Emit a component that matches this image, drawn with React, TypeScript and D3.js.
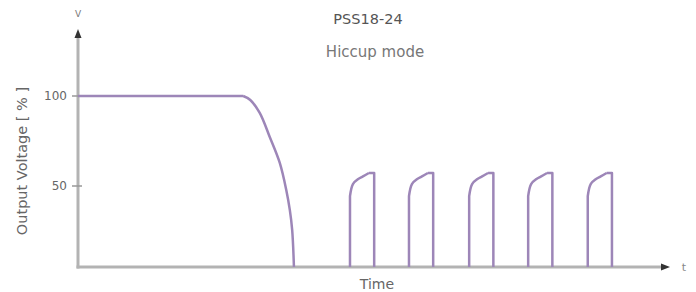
import React from "react";
import * as d3 from "d3";

// schematic waveform, time in arbitrary units (0..100), output in %
const mainTime = [0, 28.0, 29.2, 30.8, 32.5, 34.2, 35.3, 35.9, 36.3, 36.6];
const mainValue = [100, 100, 97.8, 90.6, 77.2, 62.8, 47.8, 36.7, 25.6, 5];

const pulseStarts = [46.1, 56.1, 66.3, 76.3, 86.4];
const pulseOffsets = [0, 0, 0.5, 1.4, 2.2, 3.2, 4.1, 4.1];
const pulseValues = [5, 44.4, 51.1, 53.9, 55.3, 57.2, 57.2, 5];

const yTicks = [50, 100];
const title = "PSS18-24";
const subtitle = "Hiccup mode";

type Pt = { t: number; v: number };

const App: React.FC = () => {
  const width = 696;
  const height = 292;
  const x = d3.scaleLinear().domain([0, 100]).range([78, 668]);
  const y = d3.scaleLinear().domain([5, 100]).range([267, 96]);

  const straight = d3
    .line<Pt>()
    .x((d) => x(d.t))
    .y((d) => y(d.v));
  const curved = d3
    .line<Pt>()
    .x((d) => x(d.t))
    .y((d) => y(d.v))
    .curve(d3.curveCatmullRom.alpha(0.5));

  const main: Pt[] = mainTime.map((t, i) => ({ t, v: mainValue[i] }));
  const pulses: Pt[][] = pulseStarts.map((s) =>
    pulseOffsets.map((o, i) => ({ t: s + o, v: pulseValues[i] }))
  );

  // flat / vertical parts straight, bends smooth
  const mainPath = (straight(main.slice(0, 2)) || "") + (curved(main.slice(1)) || "");
  const pulsePath = (p: Pt[]) =>
    (straight(p.slice(0, 2)) || "") + (curved(p.slice(1, 6)) || "") + (straight(p.slice(5)) || "");

  const x0 = x(0);
  const yBase = y(5);
  const font = "'DejaVu Sans', sans-serif";
  const stroke = "#9d86b8";

  return (
    <svg
      width={width}
      height={height}
      style={{ position: "absolute", left: 0, top: 0, background: "#fff" }}
      fontFamily={font}
    >
      {/* axes */}
      <line x1={x0} y1={36} x2={x0} y2={yBase + 1.5} stroke="#b3b3b3" strokeWidth={3} />
      <line x1={x0 - 1.5} y1={yBase} x2={662} y2={yBase} stroke="#b3b3b3" strokeWidth={3} />
      <path d={`M${x0},29 L${x0 - 3.5},38 L${x0 + 3.5},38 Z`} fill="#333" />
      <path d={`M670,${yBase} L661,${yBase - 3.5} L661,${yBase + 3.5} Z`} fill="#333" />
      <text x={x0} y={17} textAnchor="middle" fontSize={9} fill="#777">V</text>
      <text x={684} y={yBase + 4} textAnchor="middle" fontSize={11} fill="#888">t</text>

      {yTicks.map((t) => (
        <g key={t}>
          <line x1={x0 - 6} x2={x0 + 4} y1={y(t)} y2={y(t)} stroke="#999" strokeWidth={1.5} />
          <text x={x0 - 11} y={y(t)} dy="0.35em" textAnchor="end" fontSize={12} fill="#666">
            {t}
          </text>
        </g>
      ))}

      <text
        transform={`translate(22,${161}) rotate(-90)`}
        textAnchor="middle"
        dy="0.35em"
        fontSize={14.5}
        fill="#666"
      >
        Output Voltage  [ % ]
      </text>
      <text x={377} y={289} textAnchor="middle" fontSize={14} fill="#666">Time</text>

      <text x={368} y={24} textAnchor="middle" fontSize={14.5} fill="#555">{title}</text>
      <text x={375} y={57} textAnchor="middle" fontSize={15} fill="#777">{subtitle}</text>

      {/* waveform */}
      <path d={mainPath} fill="none" stroke={stroke} strokeWidth={2.5} strokeLinejoin="round" />
      {pulses.map((p, i) => (
        <path key={i} d={pulsePath(p)} fill="none" stroke={stroke} strokeWidth={2.5} strokeLinejoin="round" />
      ))}
    </svg>
  );
};

export default App;
